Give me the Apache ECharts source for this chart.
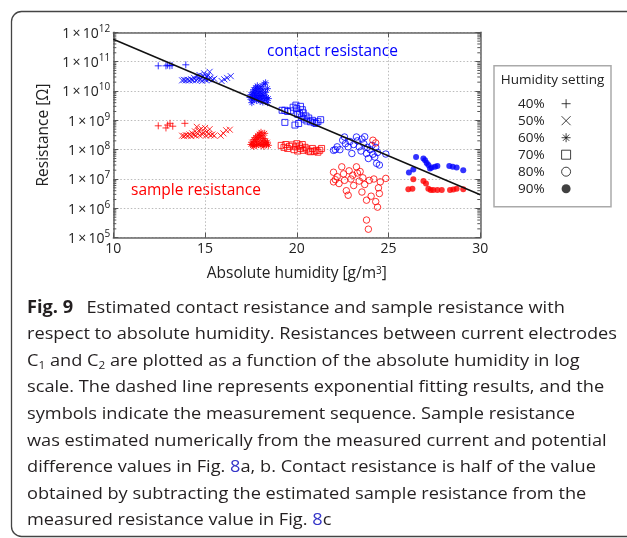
<!DOCTYPE html>
<html>
<head>
<meta charset="utf-8">
<script src="https://cdn.jsdelivr.net/npm/echarts/dist/echarts.min.js"></script>
<style>
  html, body { margin: 0; padding: 0; background: #fff; overflow: hidden; }
  #chart { position: absolute; left: 0; top: 0; width: 627px; height: 538px; }
  #caption {
    position: absolute; left: 27px; top: 293.7px;
    font-family: 'Open Sans', 'Noto Sans', sans-serif; font-size: 17px; color: #231f20;
  }
  #caption .ln { height: 26.6px; line-height: 26.6px; white-space: nowrap; }
  #caption .ln span.t { display: inline-block; transform-origin: 0 50%; }
  #caption b { font-weight: 700; margin-right: 8px; }
  #caption .lk { color: #3535c8; }
  #caption sub { font-size: 11px; vertical-align: -3px; line-height: 0; }
</style>
</head>
<body>
<div id="chart"></div>
<div id="caption">
  <div class="ln"><span class="t"><b>Fig. 9</b> Estimated contact resistance and sample resistance with</span></div>
  <div class="ln"><span class="t" id="ref">respect to absolute humidity. Resistances between current electrodes</span></div>
  <div class="ln"><span class="t">C<sub>1</sub> and C<sub>2</sub> are plotted as a function of the absolute humidity in log</span></div>
  <div class="ln"><span class="t">scale. The dashed line represents exponential fitting results, and the</span></div>
  <div class="ln"><span class="t">symbols indicate the measurement sequence. Sample resistance</span></div>
  <div class="ln"><span class="t">was estimated numerically from the measured current and potential</span></div>
  <div class="ln"><span class="t">difference values in Fig. <span class="lk">8</span>a, b. Contact resistance is half of the value</span></div>
  <div class="ln"><span class="t">obtained by subtracting the estimated sample resistance from the</span></div>
  <div class="ln"><span class="t">measured resistance value in Fig. <span class="lk">8</span>c</span></div>
</div>
<script>
// absolute humidity [g/m3], resistance [ohm]
const contact40 = [[12.45, 7.2e10], [12.87, 7.2e10], [12.96, 7.6e10], [13.08, 7.2e10], [13.2, 7.4e10], [13.95, 7.8e10]]
const sample40 = [[12.45, 6.5e8], [12.87, 5.5e8], [12.96, 6.9e8], [13.09, 7.9e8], [13.24, 6.3e8], [13.9, 7.9e8]]

const contact50 = [
  [13.75, 2.3e10], [13.85, 2.4e10], [13.95, 2.3e10], [14.05, 2.4e10], [14.15, 2.3e10], [14.25, 2.5e10],
  [14.35, 2.3e10], [14.4, 2.8e10], [14.5, 2.3e10], [14.55, 3.2e10], [14.6, 2.5e10], [14.7, 3.5e10],
  [14.75, 2.4e10], [14.8, 2.8e10], [14.85, 2.2e10], [14.9, 3.2e10], [14.95, 4.0e10], [15.0, 2.6e10],
  [15.05, 2.3e10], [15.1, 3.0e10], [15.15, 3.5e10], [15.2, 2.5e10], [15.25, 4.5e10], [15.3, 2.8e10],
  [15.4, 2.4e10], [15.5, 2.6e10], [15.9, 2.2e10], [16.05, 2.5e10], [16.2, 2.8e10], [16.4, 3.2e10]
]
const sample50 = [
  [13.75, 3.0e8], [13.85, 2.9e8], [13.95, 3.1e8], [14.05, 3.0e8], [14.15, 3.3e8], [14.25, 2.9e8],
  [14.3, 3.6e8], [14.4, 3.2e8], [14.45, 4.2e8], [14.5, 3.0e8], [14.55, 6.0e8], [14.6, 3.5e8],
  [14.65, 4.5e8], [14.7, 3.1e8], [14.8, 5.2e8], [14.85, 3.3e8], [14.9, 3.8e8], [15.0, 5.5e8],
  [15.05, 3.0e8], [15.1, 4.0e8], [15.2, 3.4e8], [15.25, 5.0e8], [15.3, 3.1e8], [15.4, 3.3e8],
  [15.5, 3.0e8], [15.85, 3.0e8], [16.0, 3.6e8], [16.15, 4.6e8], [16.35, 4.8e8]
]

const contact60 = [
  [17.45, 6.0e9], [17.5, 7.5e9], [17.55, 5.0e9], [17.55, 4.0e9], [17.6, 9.0e9], [17.6, 6.5e9],
  [17.65, 1.1e10], [17.7, 8.0e9], [17.7, 5.5e9], [17.75, 1.3e10], [17.75, 7.0e9], [17.8, 4.8e9],
  [17.8, 1.0e10], [17.85, 6.0e9], [17.85, 1.5e10], [17.9, 8.5e9], [17.9, 5.2e9], [17.95, 1.2e10],
  [17.95, 7.0e9], [18.0, 9.5e9], [18.0, 4.5e9], [18.05, 6.5e9], [18.05, 1.4e10], [18.1, 8.0e9],
  [18.1, 5.5e9], [18.15, 1.1e10], [18.15, 4.2e9], [18.2, 1.7e10], [18.2, 7.0e9], [18.25, 5.0e9],
  [18.3, 1.9e10], [18.3, 9.0e9], [18.35, 6.0e9], [18.4, 4.0e9], [18.4, 1.2e10], [18.45, 5.5e9]
]
const sample60 = [
  [17.5, 1.5e8], [17.55, 1.8e8], [17.6, 1.4e8], [17.65, 2.2e8], [17.65, 1.3e8], [17.7, 1.6e8],
  [17.75, 2.6e8], [17.8, 1.4e8], [17.8, 1.9e8], [17.85, 3.0e8], [17.9, 1.5e8], [17.9, 2.3e8],
  [17.95, 3.4e8], [18.0, 1.7e8], [18.0, 2.7e8], [18.05, 1.4e8], [18.05, 3.9e8], [18.1, 2.0e8],
  [18.1, 3.0e8], [18.15, 1.5e8], [18.2, 2.4e8], [18.2, 1.3e8], [18.25, 1.7e8], [18.25, 3.6e8],
  [18.3, 2.0e8], [18.35, 1.5e8], [18.4, 1.8e8], [18.45, 1.4e8]
]

const contact70 = [
  [19.2, 2.2e9], [19.35, 2.2e9], [19.35, 8.5e8], [19.5, 2.0e9], [19.65, 2.1e9], [19.8, 2.8e9],
  [19.9, 6.9e8], [19.95, 3.3e9], [20.0, 2.5e9], [20.05, 1.6e9], [20.1, 7.8e8], [20.15, 1.7e9],
  [20.2, 3.0e9], [20.25, 1.3e9], [20.3, 2.3e9], [20.35, 1.8e9], [20.4, 1.1e9], [20.5, 1.4e9],
  [20.55, 9.5e8], [20.65, 1.2e9], [20.75, 8.9e8], [20.85, 1.0e9], [20.95, 8.3e8], [21.05, 7.8e8],
  [21.15, 9.0e8], [21.3, 1.05e9]
]
const sample70 = [
  [19.15, 1.4e8], [19.3, 1.2e8], [19.4, 1.5e8], [19.5, 1.1e8], [19.6, 1.3e8], [19.75, 1.45e8],
  [19.85, 1.0e8], [19.95, 1.25e8], [20.0, 1.6e8], [20.05, 9.0e7], [20.15, 1.35e8], [20.2, 1.1e8],
  [20.3, 1.5e8], [20.35, 9.5e7], [20.45, 1.2e8], [20.55, 1.05e8], [20.65, 9.0e7], [20.75, 8.5e7],
  [20.85, 1.1e8], [20.95, 8.8e7], [21.05, 9.5e7], [21.15, 8.2e7], [21.25, 9.5e7], [21.35, 1.1e8]
]

const contact80 = [
  [22.0, 9.5e7], [22.1, 1.0e8], [22.2, 1.25e8], [22.35, 1.0e8], [22.5, 2.1e8], [22.6, 2.7e8],
  [22.65, 1.6e8], [22.8, 1.25e8], [22.9, 1.9e8], [23.0, 7.4e7], [23.1, 1.5e8], [23.25, 2.7e8],
  [23.3, 2.0e8], [23.4, 1.25e8], [23.5, 9.0e7], [23.55, 2.3e8], [23.65, 1.6e8], [23.7, 2.75e8],
  [23.8, 7.4e7], [23.85, 1.2e8], [23.9, 5.0e7], [24.0, 1.0e8], [24.1, 1.4e8], [24.15, 7.0e7],
  [24.25, 5.6e7], [24.3, 1.2e8], [24.35, 3.4e7], [24.4, 8.0e7], [24.5, 3.0e7], [24.85, 7.1e7]
]
const sample80 = [
  [22.0, 1.7e7], [22.0, 8.0e6], [22.1, 9.5e6], [22.2, 1.2e7], [22.3, 7.0e6], [22.45, 2.6e7],
  [22.55, 1.5e7], [22.6, 9.0e6], [22.7, 4.0e6], [22.8, 2.8e6], [22.85, 1.9e7], [22.95, 1.0e7],
  [23.05, 1.35e7], [23.1, 6.0e6], [23.25, 2.6e7], [23.3, 1.6e7], [23.4, 8.5e6], [23.45, 1.8e7],
  [23.55, 3.6e6], [23.6, 1.1e7], [23.7, 6.5e6], [23.8, 1.9e6], [23.8, 4.0e5], [23.9, 1.95e5],
  [23.95, 9.0e6], [24.05, 2.6e6], [24.15, 2.1e8], [24.2, 1.0e7], [24.3, 1.7e6], [24.3, 1.7e8],
  [24.4, 1.1e6], [24.45, 5.0e6], [24.5, 3.2e6], [24.55, 8.0e6], [24.85, 1.05e7]
]

const contact90 = [
  [26.11, 1.66e7], [26.35, 2.1e7], [26.5, 5.6e7], [26.9, 5.0e7], [26.99, 4.4e7], [27.08, 3.5e7],
  [27.17, 3.0e7], [27.26, 2.3e7], [27.35, 2.45e7], [27.53, 2.6e7], [27.66, 2.75e7], [28.31, 2.75e7],
  [28.5, 2.6e7], [28.71, 2.45e7], [29.07, 2.0e7]
]
const sample90 = [
  [26.08, 4.5e6], [26.3, 4.7e6], [26.35, 9.8e6], [26.9, 8.5e6], [27.04, 7.1e6], [27.17, 4.7e6],
  [27.3, 4.2e6], [27.44, 4.2e6], [27.66, 4.2e6], [27.9, 4.2e6], [28.35, 4.2e6], [28.53, 4.4e6],
  [28.71, 4.7e6], [29.07, 4.5e6]
]

// exponential fit (straight on the log axis)
const fitLine = [[10, 5.8e11], [30, 2.9e6]]

const humidityNames = ['40%', '50%', '60%', '70%', '80%', '90%']
const contactSets = [contact40, contact50, contact60, contact70, contact80, contact90]
const sampleSets = [sample40, sample50, sample60, sample70, sample80, sample90]

const xTicks = [10, 15, 20, 25, 30]
const yMin = 1e5
const yMax = 1e12

const BLUE = '#0000ff'
const RED = '#ff0000'
const FONT = "'Open Sans', 'Noto Sans', sans-serif"

const marks = {
  '40%': { symbol: 'path://M5,0L5,10M0,5L10,5', size: 7, hollow: true },
  '50%': { symbol: 'path://M0,0L10,10M10,0L0,10', size: 6, hollow: true },
  '60%': { symbol: 'path://M5,0L5,10M0,5L10,5M1.5,1.5L8.5,8.5M8.5,1.5L1.5,8.5', size: 7, hollow: true },
  '70%': { symbol: 'rect', size: 6, hollow: true },
  '80%': { symbol: 'circle', size: 6.5, hollow: true },
  '90%': { symbol: 'circle', size: 6, hollow: false }
}

function markStyle(name, color) {
  const m = marks[name]
  return m.hollow
    ? { color: 'none', borderColor: color, borderWidth: 1 }
    : { color: color, borderWidth: 0 }
}

function scatter(name, data, color) {
  return {
    name: name,
    type: 'scatter',
    data: data,
    symbol: marks[name].symbol,
    symbolSize: marks[name].size,
    itemStyle: markStyle(name, color),
    emphasis: { disabled: true },
    z: 3
  }
}

// log minor ticks on left/right frame
const minorTickValues = []
for (let e = 5; e < 12; e++) {
  for (let k = 2; k <= 9; k++) minorTickValues.push(k * Math.pow(10, e))
}

const series = []
humidityNames.forEach((name, i) => {
  series.push(scatter(name, contactSets[i], BLUE))
  series.push(scatter(name, sampleSets[i], RED))
})
series.push({
  type: 'line',
  data: fitLine,
  showSymbol: false,
  lineStyle: { color: '#111', width: 1.5 },
  silent: true,
  z: 5
})
series.push({
  type: 'custom',
  silent: true,
  clip: false,
  data: minorTickValues.map(v => [10, v]),
  encode: { x: 0, y: 1 },
  renderItem: function (params, api) {
    const left = api.coord([10, api.value(1)])
    const right = api.coord([30, api.value(1)])
    const st = { stroke: '#555', lineWidth: 1 }
    return {
      type: 'group',
      children: [
        { type: 'line', shape: { x1: left[0], y1: left[1], x2: left[0] + 3, y2: left[1] }, style: st },
        { type: 'line', shape: { x1: right[0], y1: right[1], x2: right[0] - 3, y2: right[1] }, style: st }
      ]
    }
  },
  z: 4
})

const axisLine = { lineStyle: { color: '#666', width: 1.5 } }
const tick = { inside: true, length: 5, lineStyle: { color: '#555', width: 1 } }

const option = {
  animation: false,
  textStyle: { fontFamily: FONT },
  grid: { left: 113.3, right: 146.7, top: 32.3, bottom: 300.3 },
  xAxis: [
    {
      type: 'value',
      min: xTicks[0],
      max: xTicks[xTicks.length - 1],
      interval: 5,
      axisLine: axisLine,
      axisTick: tick,
      splitLine: { show: true, lineStyle: { color: '#bbb', type: [1.5, 2] } },
      axisLabel: { fontSize: 14, color: '#222', margin: 4, fontFamily: FONT },
      name: 'Absolute humidity [g/m{s|3}]',
      nameLocation: 'middle',
      nameGap: 28,
      nameTextStyle: {
        fontSize: 15.5, color: '#222', fontFamily: FONT,
        rich: { s: { fontSize: 10, verticalAlign: 'top', lineHeight: 12, fontFamily: FONT, color: '#222' } }
      }
    },
    {
      type: 'value',
      position: 'top',
      min: xTicks[0],
      max: xTicks[xTicks.length - 1],
      interval: 5,
      axisLine: axisLine,
      axisTick: tick,
      axisLabel: { show: false },
      splitLine: { show: false }
    }
  ],
  yAxis: [
    {
      type: 'log',
      logBase: 10,
      min: yMin,
      max: yMax,
      axisLine: axisLine,
      axisTick: tick,
      splitLine: { show: true, lineStyle: { color: '#bbb', type: [1.5, 2] } },
      axisLabel: {
        margin: 3,
        formatter: function (v) {
          return '{m|1\u2009×\u200910}{s|' + Math.round(Math.log10(v)) + '}'
        },
        rich: {
          m: { fontSize: 14, color: '#222', lineHeight: 17, verticalAlign: 'bottom', fontFamily: FONT },
          s: { fontSize: 10, color: '#222', lineHeight: 10, verticalAlign: 'top', fontFamily: FONT }
        }
      },
      name: 'Resistance [Ω]',
      nameLocation: 'middle',
      nameGap: 57,
      nameTextStyle: { fontSize: 15.5, color: '#222', fontFamily: FONT }
    },
    {
      type: 'log',
      logBase: 10,
      position: 'right',
      min: yMin,
      max: yMax,
      axisLine: axisLine,
      axisTick: tick,
      axisLabel: { show: false },
      splitLine: { show: false }
    }
  ],
  legend: {
    orient: 'vertical',
    left: 518,
    top: 95.2,
    padding: 0,
    itemGap: 0,
    itemWidth: 9,
    itemHeight: 9,
    align: 'right',
    selectedMode: false,
    textStyle: { fontSize: 13.5, color: '#222', lineHeight: 17, padding: [0, 12, 0, 0], fontFamily: FONT },
    data: humidityNames.map(name => ({
      name: name,
      icon: marks[name].symbol,
      itemStyle: markStyle(name, '#111')
    }))
  },
  graphic: [
    {
      type: 'rect',
      shape: { x: 11.5, y: 11.5, width: 700, height: 525, r: 10 },
      style: { fill: 'none', stroke: '#444', lineWidth: 1.3 },
      silent: true
    },
    {
      type: 'rect',
      shape: { x: 494, y: 65.7, width: 117, height: 141 },
      style: { fill: '#fff', stroke: '#aaa', lineWidth: 1.5 },
      silent: true,
      z: -1
    },
    {
      type: 'text',
      x: 552.5,
      y: 80,
      style: { text: 'Humidity setting', fontSize: 13.5, fill: '#222', align: 'center', verticalAlign: 'middle', fontFamily: FONT }
    },
    {
      type: 'text',
      x: 267,
      y: 52,
      style: { text: 'contact resistance', fontSize: 15.5, fill: BLUE, align: 'left', verticalAlign: 'middle', fontFamily: FONT }
    },
    {
      type: 'text',
      x: 131,
      y: 190.5,
      style: { text: 'sample resistance', fontSize: 15.5, fill: RED, align: 'left', verticalAlign: 'middle', fontFamily: FONT }
    }
  ],
  series: series
}

const chart = echarts.init(document.getElementById('chart'), null, { renderer: 'canvas' })
chart.setOption(option)

// fit the caption's text width to the figure's line width
const ref = document.getElementById('ref')
const k = 590 / ref.getBoundingClientRect().width
document.querySelectorAll('#caption span.t').forEach(el => {
  el.style.transform = 'scaleX(' + k + ')'
})
</script>
</body>
</html>
